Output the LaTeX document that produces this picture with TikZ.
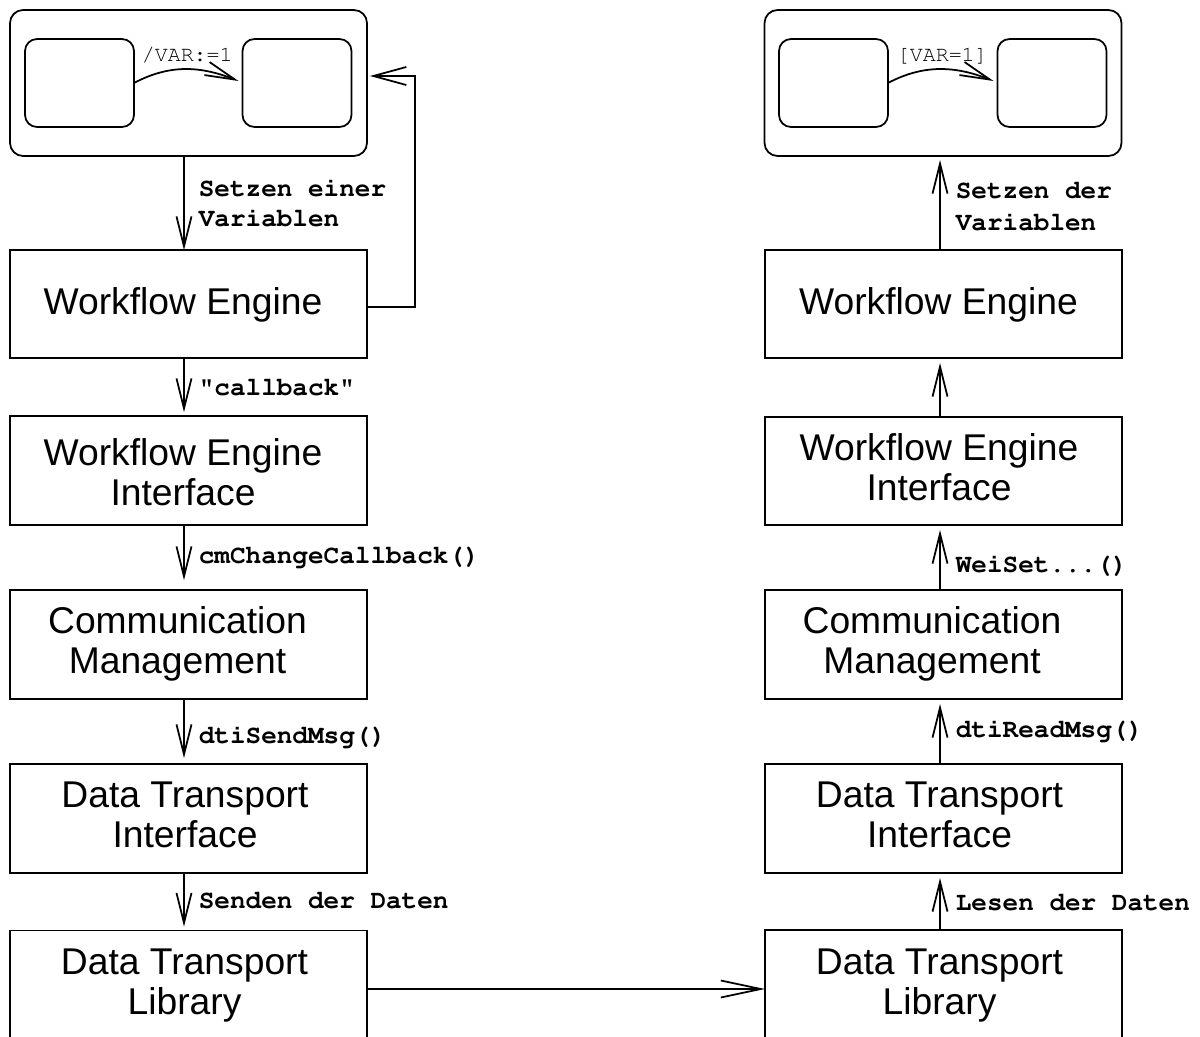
\documentclass[tikz,border=0pt]{standalone}
\usepackage[T1]{fontenc}
\usepackage{fontspec}
\setmainfont{Liberation Sans}
\usetikzlibrary{arrows.meta}
% typewriter face for the call labels and guards
\newcommand{\courierface}{\fontencoding{T1}\fontfamily{pcr}}
\begin{document}
\begin{tikzpicture}[x=0.02cm, y=-0.02cm, line width=1pt,
  box/.style={draw, rectangle, inner sep=0pt, outer sep=0pt, minimum width=7.14cm},
  frame/.style={draw, rectangle, rounded corners=0.26cm, inner sep=0pt, outer sep=0pt,
                minimum width=7.14cm, minimum height=2.92cm},
  state/.style={draw, rectangle, rounded corners=0.24cm, inner sep=0pt, outer sep=0pt,
                minimum width=2.18cm, minimum height=1.76cm},
  boxtext/.style={anchor=north, inner sep=0pt, align=center,
                  font=\fontsize{21.2}{22.7}\selectfont},
  lbl/.style={anchor=base west, inner sep=0pt,
              font=\courierface\fontseries{b}\fontsize{14.8}{17}\selectfont},
  guard/.style={anchor=base west, inner sep=0pt,
                font=\courierface\fontseries{m}\fontsize{12.3}{14}\selectfont},
  flow/.style={-{Straight Barb[length=0.6cm,width=0.3cm]}},
  back/.style={-{Straight Barb[length=0.66cm,width=0.36cm]}},
  link/.style={-{Straight Barb[length=0.8cm,width=0.34cm]}},
  trans/.style={-{Straight Barb[length=0.6cm,width=0.28cm]}},
]
\useasboundingbox (0,0) rectangle (1200,1037);
\clip (0,0) rectangle (1200,1037);

% column axes and routing points
\coordinate (colL) at (184,0);
\coordinate (colR) at (940,0);
\coordinate (fbY) at (0,307);
\coordinate (fbTop) at (415,76);
\coordinate (linkY) at (0,989);

% ---------- sending side ----------
\node[frame] (topL) at (188.5,83) {};
\node[state] (sL1) at (79.5,83) {};
\node[state] (sL2) at (297,83) {};
\draw[trans] (sL1.east) .. controls +(36,-19) and +(-38,-15) .. ([xshift=-0.08cm,yshift=0.04cm]sL2.west);
\node[guard] (gL) at (141,62) {/VAR:=1};

\node[box, minimum height=2.16cm] (weL) at (188.5,304) {};
\node[boxtext] (tWeL) at (183,287) {Workflow Engine};
\node[box, minimum height=2.18cm] (weiL) at (188.5,470.5) {};
\node[boxtext] (tWeiL) at (183,438) {Workflow Engine\\Interface};
\node[box, minimum height=2.18cm] (cmL) at (188.5,644.5) {};
\node[boxtext] (tCmL) at (177.5,606) {Communication\\Management};
\node[box, minimum height=2.18cm] (dtiL) at (188.5,818.5) {};
\node[boxtext] (tDtiL) at (185,781) {Data Transport\\Interface};
\node[box, minimum height=2.4cm] (dtlL) at (188.5,990.5) {};
\node[boxtext] (tDtlL) at (184.5,948) {Data Transport\\Library};

\draw[flow] (topL.south -| colL) -- (weL.north -| colL);
\draw[flow, shorten >=0.08cm] (weL.south -| colL) -- (weiL.north -| colL);
\draw[flow, shorten >=0.2cm] (weiL.south -| colL) -- (cmL.north -| colL);
\draw[flow, shorten >=0.12cm] (cmL.south -| colL) -- (dtiL.north -| colL);
\draw[flow, shorten >=0.08cm] (dtiL.south -| colL) -- (dtlL.north -| colL);
\draw[back, shorten >=0.06cm] (weL.east |- fbY) -| (fbTop) -- (topL.east |- fbTop);

\node[lbl] (lSetL1) at (198,197) {Setzen einer};
\node[lbl] (lSetL2) at (198,227) {Variablen};
\node[lbl] (lCb) at (198,395) {"callback"};
\node[lbl] (lCm) at (198,563) {cmChangeCallback()};
\node[lbl] (lSend) at (198,743) {dtiSendMsg()};
\node[lbl] (lSd) at (198,908) {Senden der Daten};

% ---------- receiving side ----------
\node[frame] (topR) at (943,83) {};
\node[state] (sR1) at (833.5,83) {};
\node[state] (sR2) at (1052,83) {};
\draw[trans] (sR1.east) .. controls +(36,-19) and +(-38,-15) .. ([xshift=-0.08cm,yshift=0.04cm]sR2.west);
\node[guard] (gR) at (896,62) {[VAR=1]};

\node[box, minimum height=2.16cm] (weR) at (943.5,304) {};
\node[boxtext] (tWeR) at (938.5,287) {Workflow Engine};
\node[box, minimum height=2.16cm] (weiR) at (943.5,471) {};
\node[boxtext] (tWeiR) at (939,433) {Workflow Engine\\Interface};
\node[box, minimum height=2.18cm] (cmR) at (943.5,644.5) {};
\node[boxtext] (tCmR) at (932,606) {Communication\\Management};
\node[box, minimum height=2.18cm] (dtiR) at (943.5,818.5) {};
\node[boxtext] (tDtiR) at (939.5,781) {Data Transport\\Interface};
\node[box, minimum height=2.4cm] (dtlR) at (943.5,990) {};
\node[boxtext] (tDtlR) at (939.5,948) {Data Transport\\Library};

\draw[flow, shorten >=0.08cm] (weR.north -| colR) -- (topR.south -| colR);
\draw[flow, shorten >=0.1cm] (weiR.north -| colR) -- (weR.south -| colR);
\draw[flow, shorten >=0.1cm] (cmR.north -| colR) -- (weiR.south -| colR);
\draw[flow, shorten >=0.1cm] (dtiR.north -| colR) -- (cmR.south -| colR);
\draw[flow, shorten >=0.1cm] (dtlR.north -| colR) -- (dtiR.south -| colR);

\node[lbl] (lSetR1) at (955,199) {Setzen der};
\node[lbl] (lSetR2) at (955,231) {Variablen};
\node[lbl] (lWei) at (955,572) {WeiSet...()};
\node[lbl] (lRead) at (955,737) {dtiReadMsg()};
\node[lbl] (lLd) at (955,910) {Lesen der Daten};

% ---------- transport between the two sides ----------
\draw[link] (dtlL.east |- linkY) -- (dtlR.west |- linkY);
\end{tikzpicture}
\end{document}
